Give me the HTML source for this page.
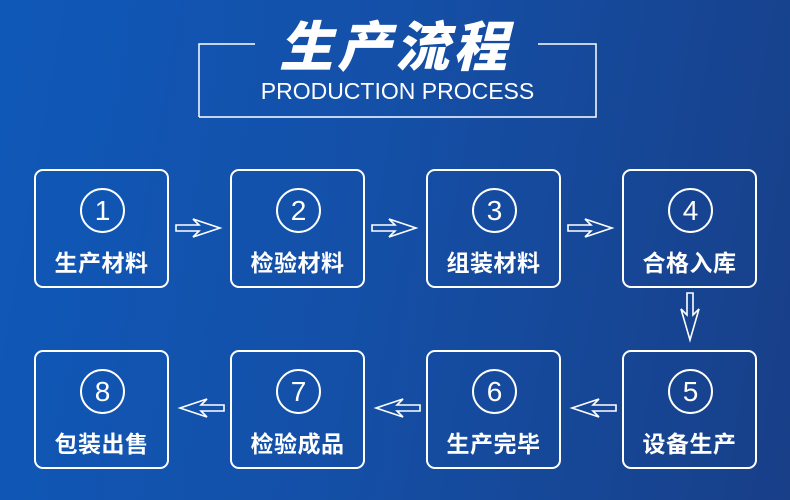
<!DOCTYPE html>
<html><head><meta charset="utf-8"><style>
html,body{margin:0;padding:0}
body{width:790px;height:500px;overflow:hidden;background:linear-gradient(100deg,#0f58b8 0%,#1450a8 45%,#183f88 100%);position:relative;font-family:"Liberation Sans","Noto Sans CJK SC",sans-serif;color:#fff}
.box{position:absolute;width:131px;height:115px;border:2px solid #fff;border-radius:9px;box-sizing:content-box}
.c{position:absolute;left:44px;top:17px;width:41px;height:41px;border:2px solid #fff;border-radius:50%;text-align:center;line-height:41px;font-size:28px}
.l{position:absolute;left:0;right:0;top:73px;text-align:center;font-size:23px;font-weight:bold;letter-spacing:0.5px}
svg{position:absolute;left:0;top:0}
</style></head><body>
<svg width="790" height="500">
<path d="M199,117 L199,44 L255,44 M538,44 L596,44 L596,117 L199,117" fill="none" stroke="#fff" stroke-width="1.5"/>
<g fill="none" stroke="#fff" stroke-width="1.6">
<path d="M176,225 L199,225 L193,219 L220,228 L193,237 L199,231 L176,231 Z"/>
<path d="M372,225 L395,225 L389,219 L416,228 L389,237 L395,231 L372,231 Z"/>
<path d="M568,225 L591,225 L585,219 L612,228 L585,237 L591,231 L568,231 Z"/>
<path d="M616,405 L593,405 L599,399 L572,408 L599,417 L593,411 L616,411 Z"/>
<path d="M420,405 L397,405 L403,399 L376,408 L403,417 L397,411 L420,411 Z"/>
<path d="M224,405 L201,405 L207,399 L180,408 L207,417 L201,411 L224,411 Z"/>
<path d="M687,293 L687,315 L681,309 L690,340 L699,309 L693,315 L693,293 Z"/>
</g>
</svg>
<div style="position:absolute;left:195px;width:400px;top:17px;text-align:center;font-size:54px;font-weight:900;font-style:italic;letter-spacing:4px;line-height:62px">生产流程</div>
<div style="position:absolute;left:199px;width:397px;top:76px;text-align:center;font-size:23px;line-height:30px">PRODUCTION PROCESS</div>

<div class="box" style="left:34px;top:169px"><div class="c">1</div><div class="l">生产材料</div></div>
<div class="box" style="left:230px;top:169px"><div class="c">2</div><div class="l">检验材料</div></div>
<div class="box" style="left:426px;top:169px"><div class="c">3</div><div class="l">组装材料</div></div>
<div class="box" style="left:622px;top:169px"><div class="c">4</div><div class="l">合格入库</div></div>
<div class="box" style="left:34px;top:350px"><div class="c">8</div><div class="l">包装出售</div></div>
<div class="box" style="left:230px;top:350px"><div class="c">7</div><div class="l">检验成品</div></div>
<div class="box" style="left:426px;top:350px"><div class="c">6</div><div class="l">生产完毕</div></div>
<div class="box" style="left:622px;top:350px"><div class="c">5</div><div class="l">设备生产</div></div>
</body></html>
